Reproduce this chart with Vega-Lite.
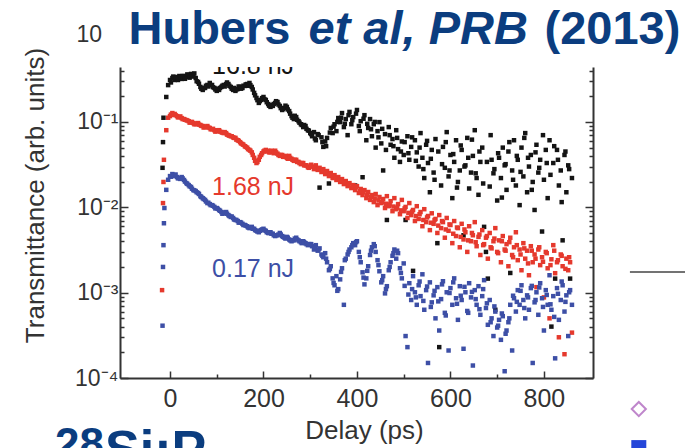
{
  "$schema": "https://vega.github.io/schema/vega-lite/v6.json",
  "width": 473,
  "height": 311,
  "autosize": {"type": "none"},
  "padding": {"left": 120, "top": 67, "right": 92, "bottom": 70},
  "background": "white",
  "config": {"view": {"stroke": null}, "font": "Liberation Sans", "axis": {"grid": false}},
  "data": {"values": [
    {"t":-17,"s1":null,"s2":0.00107,"s3":null},
    {"t":-16,"s1":0.029,"s2":null,"s3":0.00041},
    {"t":-15,"s1":0.058,"s2":0.0112,"s3":0.002},
    {"t":-14,"s1":0.112,"s2":0.0198,"s3":0.0036},
    {"t":-13,"s1":null,"s2":0.036,"s3":0.0065},
    {"t":-12,"s1":null,"s2":null,"s3":0.0098},
    {"t":-8,"s1":0.196,"s2":0.08,"s3":0.016},
    {"t":-4,"s1":0.27,"s2":0.112,"s3":0.021},
    {"t":0,"s1":0.31,"s2":0.117,"s3":0.0232},
    {"t":5,"s1":0.327,"s2":0.127,"s3":0.0245},
    {"t":10,"s1":0.31,"s2":0.124,"s3":0.0238},
    {"t":15,"s1":0.336,"s2":0.117,"s3":0.0226},
    {"t":20,"s1":0.345,"s2":0.114,"s3":0.022},
    {"t":25,"s1":0.319,"s2":0.111,"s3":0.0226},
    {"t":30,"s1":0.345,"s2":0.108,"s3":0.0209},
    {"t":35,"s1":0.336,"s2":0.105,"s3":0.0192},
    {"t":40,"s1":0.355,"s2":0.102,"s3":0.0182},
    {"t":45,"s1":0.365,"s2":0.0995,"s3":0.0173},
    {"t":50,"s1":0.355,"s2":0.097,"s3":0.0159},
    {"t":55,"s1":0.327,"s2":0.094,"s3":0.0155},
    {"t":60,"s1":0.294,"s2":0.097,"s3":0.0147},
    {"t":65,"s1":0.257,"s2":0.092,"s3":0.0135},
    {"t":70,"s1":0.237,"s2":0.0895,"s3":0.0128},
    {"t":75,"s1":0.25,"s2":0.087,"s3":0.0122},
    {"t":80,"s1":0.271,"s2":0.0895,"s3":0.0112},
    {"t":85,"s1":0.286,"s2":0.085,"s3":0.0109},
    {"t":90,"s1":0.271,"s2":0.082,"s3":0.0106},
    {"t":95,"s1":0.25,"s2":0.08,"s3":0.0101},
    {"t":100,"s1":0.231,"s2":0.078,"s3":0.0098},
    {"t":105,"s1":0.237,"s2":0.08,"s3":0.0093},
    {"t":110,"s1":0.257,"s2":0.076,"s3":0.0088},
    {"t":115,"s1":0.271,"s2":0.074,"s3":0.0085},
    {"t":120,"s1":0.278,"s2":0.074,"s3":0.0088},
    {"t":125,"s1":0.278,"s2":0.07,"s3":0.0081},
    {"t":130,"s1":0.257,"s2":0.068,"s3":0.0077},
    {"t":135,"s1":0.237,"s2":0.066,"s3":0.0075},
    {"t":140,"s1":0.231,"s2":0.065,"s3":0.0071},
    {"t":145,"s1":0.243,"s2":0.061,"s3":0.0069},
    {"t":150,"s1":0.257,"s2":0.058,"s3":0.0067},
    {"t":155,"s1":0.25,"s2":0.055,"s3":0.0064},
    {"t":160,"s1":0.264,"s2":0.052,"s3":0.0062},
    {"t":165,"s1":0.278,"s2":0.05,"s3":0.006},
    {"t":170,"s1":0.286,"s2":0.047,"s3":0.0057},
    {"t":175,"s1":0.257,"s2":0.044,"s3":0.0059},
    {"t":180,"s1":0.219,"s2":0.038,"s3":0.0056},
    {"t":185,"s1":0.191,"s2":0.033,"s3":0.0053},
    {"t":190,"s1":0.167,"s2":0.036,"s3":0.0051},
    {"t":195,"s1":0.181,"s2":0.041,"s3":0.0054},
    {"t":200,"s1":0.196,"s2":0.045,"s3":0.0056},
    {"t":205,"s1":0.181,"s2":0.047,"s3":0.0053},
    {"t":210,"s1":0.162,"s2":0.046,"s3":0.005},
    {"t":215,"s1":0.15,"s2":0.044,"s3":0.0051},
    {"t":220,"s1":0.154,"s2":0.045,"s3":0.0049},
    {"t":225,"s1":0.167,"s2":0.046,"s3":0.0046},
    {"t":230,"s1":0.171,"s2":0.0425,"s3":0.0047},
    {"t":235,"s1":0.154,"s2":0.04,"s3":0.005},
    {"t":240,"s1":0.138,"s2":0.041,"s3":0.0046},
    {"t":245,"s1":0.146,"s2":0.039,"s3":0.0044},
    {"t":250,"s1":0.15,"s2":0.038,"s3":0.0045},
    {"t":255,"s1":0.134,"s2":0.04,"s3":0.0042},
    {"t":260,"s1":0.117,"s2":0.037,"s3":0.004},
    {"t":265,"s1":0.108,"s2":0.035,"s3":0.0041},
    {"t":270,"s1":0.114,"s2":0.036,"s3":0.0044},
    {"t":275,"s1":0.102,"s2":0.034,"s3":0.0041},
    {"t":280,"s1":0.094,"s2":0.032,"s3":0.0039},
    {"t":285,"s1":0.087,"s2":0.033,"s3":0.004},
    {"t":290,"s1":0.0895,"s2":0.031,"s3":0.0038},
    {"t":295,"s1":0.08,"s2":0.0295,"s3":0.0036},
    {"t":300,"s1":0.074,"s2":0.03,"s3":0.0037},
    {"t":2,"s1":0.29,"s2":0.122,"s3":0.0228},
    {"t":7,"s1":0.34,"s2":0.121,"s3":0.0232},
    {"t":12,"s1":0.33,"s2":0.12,"s3":0.0242},
    {"t":17,"s1":0.31,"s2":0.113,"s3":0.0218},
    {"t":22,"s1":0.33,"s2":0.116,"s3":0.0215},
    {"t":27,"s1":0.345,"s2":0.108,"s3":0.0218},
    {"t":32,"s1":0.32,"s2":0.106,"s3":0.02},
    {"t":37,"s1":0.36,"s2":0.104,"s3":0.0188},
    {"t":42,"s1":0.33,"s2":0.098,"s3":0.0176},
    {"t":47,"s1":0.34,"s2":0.1,"s3":0.0165},
    {"t":52,"s1":0.37,"s2":0.094,"s3":0.0158},
    {"t":57,"s1":0.30,"s2":0.096,"s3":0.015},
    {"t":62,"s1":0.28,"s2":0.093,"s3":0.0143},
    {"t":67,"s1":0.245,"s2":0.09,"s3":0.0132},
    {"t":72,"s1":0.25,"s2":0.086,"s3":0.0125},
    {"t":77,"s1":0.265,"s2":0.088,"s3":0.0117},
    {"t":82,"s1":0.26,"s2":0.086,"s3":0.0113},
    {"t":87,"s1":0.27,"s2":0.082,"s3":0.0106},
    {"t":92,"s1":0.255,"s2":0.083,"s3":0.0104},
    {"t":97,"s1":0.24,"s2":0.077,"s3":0.0097},
    {"t":102,"s1":0.245,"s2":0.08,"s3":0.0096},
    {"t":107,"s1":0.25,"s2":0.077,"s3":0.0091},
    {"t":112,"s1":0.265,"s2":0.075,"s3":0.0084},
    {"t":117,"s1":0.26,"s2":0.076,"s3":0.0087},
    {"t":122,"s1":0.29,"s2":0.071,"s3":0.0084},
    {"t":127,"s1":0.265,"s2":0.069,"s3":0.0079},
    {"t":132,"s1":0.245,"s2":0.068,"s3":0.0078},
    {"t":137,"s1":0.25,"s2":0.065,"s3":0.0072},
    {"t":142,"s1":0.24,"s2":0.062,"s3":0.0071},
    {"t":147,"s1":0.26,"s2":0.06,"s3":0.0066},
    {"t":152,"s1":0.245,"s2":0.056,"s3":0.0066},
    {"t":157,"s1":0.265,"s2":0.054,"s3":0.0062},
    {"t":162,"s1":0.275,"s2":0.051,"s3":0.0061},
    {"t":167,"s1":0.265,"s2":0.048,"s3":0.0058},
    {"t":172,"s1":0.27,"s2":0.046,"s3":0.0058},
    {"t":177,"s1":0.24,"s2":0.041,"s3":0.0056},
    {"t":182,"s1":0.205,"s2":0.035,"s3":0.0054},
    {"t":187,"s1":0.18,"s2":0.034,"s3":0.0052},
    {"t":192,"s1":0.175,"s2":0.039,"s3":0.0053},
    {"t":197,"s1":0.19,"s2":0.043,"s3":0.0055},
    {"t":202,"s1":0.185,"s2":0.046,"s3":0.0054},
    {"t":207,"s1":0.17,"s2":0.045,"s3":0.0051},
    {"t":212,"s1":0.155,"s2":0.044,"s3":0.005},
    {"t":217,"s1":0.158,"s2":0.046,"s3":0.0049},
    {"t":222,"s1":0.162,"s2":0.043,"s3":0.0047},
    {"t":227,"s1":0.175,"s2":0.044,"s3":0.0047},
    {"t":232,"s1":0.16,"s2":0.041,"s3":0.0048},
    {"t":237,"s1":0.145,"s2":0.041,"s3":0.0048},
    {"t":242,"s1":0.142,"s2":0.039,"s3":0.0045},
    {"t":247,"s1":0.155,"s2":0.04,"s3":0.0043},
    {"t":252,"s1":0.14,"s2":0.037,"s3":0.0044},
    {"t":257,"s1":0.125,"s2":0.038,"s3":0.0041},
    {"t":262,"s1":0.112,"s2":0.036,"s3":0.0041},
    {"t":267,"s1":0.118,"s2":0.036,"s3":0.0043},
    {"t":272,"s1":0.106,"s2":0.034,"s3":0.0042},
    {"t":277,"s1":0.098,"s2":0.033,"s3":0.004},
    {"t":282,"s1":0.092,"s2":0.033,"s3":0.0038},
    {"t":287,"s1":0.092,"s2":0.031,"s3":0.0039},
    {"t":292,"s1":0.083,"s2":0.031,"s3":0.0037},
    {"t":297,"s1":0.079,"s2":0.029,"s3":0.0037},
    {"t":304,"s1":0.068,"s2":0.030,"s3":0.0035},
    {"t":308,"s1":0.076,"s2":0.028,"s3":0.0032},
    {"t":312,"s1":0.061,"s2":0.031,"s3":0.0036},
    {"t":316,"s1":0.072,"s2":0.0274,"s3":0.0031},
    {"t":320,"s1":0.017,"s2":0.029,"s3":0.0033},
    {"t":324,"s1":0.066,"s2":0.0259,"s3":0.0028},
    {"t":328,"s1":0.051,"s2":0.028,"s3":0.0026},
    {"t":332,"s1":0.059,"s2":0.0245,"s3":0.0029},
    {"t":336,"s1":0.065,"s2":0.0266,"s3":0.00227},
    {"t":340,"s1":0.019,"s2":0.0232,"s3":0.00183},
    {"t":344,"s1":0.085,"s2":0.0252,"s3":0.00204},
    {"t":348,"s1":0.074,"s2":0.022,"s3":0.00147},
    {"t":352,"s1":0.094,"s2":0.0238,"s3":0.00122},
    {"t":356,"s1":0.078,"s2":0.0209,"s3":0.00156},
    {"t":360,"s1":0.111,"s2":0.0226,"s3":0.0011},
    {"t":364,"s1":0.0995,"s2":0.0198,"s3":0.00143},
    {"t":368,"s1":0.127,"s2":0.0214,"s3":0.00193},
    {"t":372,"s1":0.087,"s2":0.0187,"s3":0.00072},
    {"t":376,"s1":0.108,"s2":0.0203,"s3":0.0025},
    {"t":380,"s1":0.070,"s2":0.0177,"s3":0.0028},
    {"t":384,"s1":0.131,"s2":0.0192,"s3":0.0032},
    {"t":388,"s1":0.094,"s2":0.0168,"s3":0.0034},
    {"t":392,"s1":0.114,"s2":0.0182,"s3":0.0038},
    {"t":396,"s1":0.018,"s2":0.0159,"s3":0.0036},
    {"t":400,"s1":0.138,"s2":0.0177,"s3":0.0040},
    {"t":404,"s1":0.0895,"s2":0.0147,"s3":0.0030},
    {"t":408,"s1":0.102,"s2":0.0164,"s3":0.00227},
    {"t":412,"s1":0.0225,"s2":0.0139,"s3":0.00173},
    {"t":416,"s1":0.120,"s2":0.0159,"s3":0.00125},
    {"t":420,"s1":0.061,"s2":0.0128,"s3":0.00147},
    {"t":424,"s1":0.085,"s2":0.0151,"s3":0.00204},
    {"t":428,"s1":0.108,"s2":0.0122,"s3":0.00276},
    {"t":432,"s1":0.068,"s2":0.0139,"s3":0.0034},
    {"t":436,"s1":0.094,"s2":0.0115,"s3":0.0037},
    {"t":440,"s1":0.050,"s2":0.0143,"s3":0.0030},
    {"t":444,"s1":0.078,"s2":0.0106,"s3":0.0024},
    {"t":448,"s1":0.0995,"s2":0.0132,"s3":0.00178},
    {"t":452,"s1":0.056,"s2":0.0112,"s3":0.00132},
    {"t":456,"s1":0.027,"s2":0.0125,"s3":0.00156},
    {"t":460,"s1":0.072,"s2":0.0098,"s3":0.00098},
    {"t":464,"s1":0.0071,"s2":0.0135,"s3":0.00119},
    {"t":468,"s1":0.087,"s2":0.0103,"s3":0.00183},
    {"t":472,"s1":0.054,"s2":0.0118,"s3":0.00227},
    {"t":476,"s1":0.063,"s2":0.0090,"s3":0.0027},
    {"t":480,"s1":0.038,"s2":0.0128,"s3":0.0032},
    {"t":484,"s1":0.080,"s2":0.0095,"s3":0.0025},
    {"t":488,"s1":0.048,"s2":0.0109,"s3":0.0029},
    {"t":492,"s1":0.034,"s2":0.0083,"s3":0.00193},
    {"t":496,"s1":0.059,"s2":0.0122,"s3":0.00147},
    {"t":500,"s1":0.041,"s2":0.0090,"s3":0.0022},
    {"t":504,"s1":0.0071,"s2":0.0101,"s3":0.00031},
    {"t":508,"s1":0.068,"s2":0.0075,"s3":0.00023},
    {"t":512,"s1":0.036,"s2":0.0112,"s3":0.00129},
    {"t":516,"s1":0.051,"s2":0.0081,"s3":0.00082},
    {"t":520,"s1":0.0018,"s2":0.0093,"s3":0.00156},
    {"t":524,"s1":0.061,"s2":0.0069,"s3":0.00101},
    {"t":528,"s1":0.044,"s2":0.0103,"s3":0.00072},
    {"t":532,"s1":0.030,"s2":0.0073,"s3":0.00122},
    {"t":536,"s1":0.074,"s2":0.0088,"s3":0.00091},
    {"t":540,"s1":0.038,"s2":0.0060,"s3":0.00164},
    {"t":544,"s1":0.022,"s2":0.0095,"s3":0.00063},
    {"t":548,"s1":0.054,"s2":0.0067,"s3":0.00107},
    {"t":552,"s1":0.033,"s2":0.0079,"s3":0.00015},
    {"t":556,"s1":0.015,"s2":0.0054,"s3":0.00132},
    {"t":560,"s1":0.047,"s2":0.0085,"s3":0.00077},
    {"t":564,"s1":0.0255,"s2":0.0064,"s3":0.00093},
    {"t":568,"s1":0.063,"s2":0.0073,"s3":0.00050},
    {"t":572,"s1":0.0038,"s2":0.0050,"s3":0.00116},
    {"t":576,"s1":0.00023,"s2":0.0081,"s3":0.00036},
    {"t":580,"s1":0.018,"s2":0.0057,"s3":0.00084},
    {"t":584,"s1":0.051,"s2":0.0067,"s3":0.00136},
    {"t":588,"s1":0.029,"s2":0.0044,"s3":0.00058},
    {"t":592,"s1":0.076,"s2":0.0075,"s3":0.00101},
    {"t":596,"s1":0.023,"s2":0.0053,"s3":0.00021},
    {"t":600,"s1":0.041,"s2":0.0062,"s3":0.00113},
    {"t":604,"s1":0.0128,"s2":0.0038,"s3":0.00072},
    {"t":608,"s1":0.034,"s2":0.0069,"s3":0.00147},
    {"t":612,"s1":0.061,"s2":0.0046,"s3":0.00086},
    {"t":616,"s1":0.0198,"s2":0.0057,"s3":0.00048},
    {"t":620,"s1":0.027,"s2":0.0034,"s3":0.00119},
    {"t":624,"s1":0.047,"s2":0.0064,"s3":0.00082},
    {"t":628,"s1":0.0047,"s2":0.0042,"s3":0.00022},
    {"t":632,"s1":0.031,"s2":0.0051,"s3":0.00101},
    {"t":636,"s1":0.065,"s2":0.0030,"s3":0.00061},
    {"t":640,"s1":0.0166,"s2":0.0060,"s3":0.00129},
    {"t":644,"s1":0.0255,"s2":0.0040,"s3":0.00088},
    {"t":648,"s1":0.040,"s2":0.0047,"s3":0.00014},
    {"t":652,"s1":0.080,"s2":0.0067,"s3":0.00107},
    {"t":656,"s1":0.022,"s2":0.0035,"s3":0.00072},
    {"t":660,"s1":0.014,"s2":0.0045,"s3":0.00119},
    {"t":664,"s1":0.034,"s2":0.00276,"s3":0.00055},
    {"t":668,"s1":0.050,"s2":0.0054,"s3":0.00091},
    {"t":672,"s1":0.0059,"s2":0.0037,"s3":0.0014},
    {"t":676,"s1":0.0030,"s2":0.0044,"s3":0.00066},
    {"t":680,"s1":0.00146,"s2":0.0025,"s3":0.00042},
    {"t":684,"s1":0.0175,"s2":0.0050,"s3":0.00082},
    {"t":688,"s1":0.036,"s2":0.0033,"s3":0.00050},
    {"t":692,"s1":0.025,"s2":0.0040,"s3":0.00031},
    {"t":696,"s1":0.00063,"s2":0.0057,"s3":0.00060},
    {"t":700,"s1":0.012,"s2":0.0030,"s3":0.00039},
    {"t":704,"s1":0.038,"s2":0.0041,"s3":0.00048},
    {"t":708,"s1":0.022,"s2":0.00227,"s3":0.00028},
    {"t":712,"s1":0.050,"s2":0.0046,"s3":0.00053},
    {"t":716,"s1":0.031,"s2":0.0032,"s3":0.00012},
    {"t":720,"s1":0.016,"s2":0.0037,"s3":0.00036},
    {"t":724,"s1":0.045,"s2":0.00204,"s3":0.00045},
    {"t":728,"s1":0.0017,"s2":0.0044,"s3":0.00072},
    {"t":732,"s1":0.027,"s2":0.00276,"s3":0.00021},
    {"t":736,"s1":0.061,"s2":0.0034,"s3":0.00086},
    {"t":740,"s1":0.018,"s2":0.0051,"s3":0.00060},
    {"t":744,"s1":0.036,"s2":0.0024,"s3":0.00107},
    {"t":748,"s1":0.0106,"s2":0.0032,"s3":0.00072},
    {"t":752,"s1":0.050,"s2":0.00183,"s3":0.00122},
    {"t":756,"s1":0.023,"s2":0.0038,"s3":0.00082},
    {"t":760,"s1":0.074,"s2":0.0025,"s3":0.00050},
    {"t":764,"s1":0.015,"s2":0.0031,"s3":0.00093},
    {"t":768,"s1":0.030,"s2":0.0016,"s3":0.00063},
    {"t":772,"s1":0.041,"s2":0.0035,"s3":0.00113},
    {"t":776,"s1":0.0198,"s2":0.00227,"s3":0.00015},
    {"t":780,"s1":0.0093,"s2":0.0028,"s3":0.00077},
    {"t":784,"s1":0.054,"s2":0.00116,"s3":0.00101},
    {"t":788,"s1":0.0255,"s2":0.0032,"s3":0.00055},
    {"t":792,"s1":0.036,"s2":0.0021,"s3":0.00129},
    {"t":796,"s1":0.0052,"s2":0.0026,"s3":0.00086},
    {"t":800,"s1":0.021,"s2":0.00088,"s3":0.00036},
    {"t":804,"s1":0.047,"s2":0.0030,"s3":0.00107},
    {"t":808,"s1":0.0128,"s2":0.00193,"s3":0.00072},
    {"t":812,"s1":0.061,"s2":0.00050,"s3":0.0016},
    {"t":816,"s1":0.00040,"s2":0.00246,"s3":0.00063},
    {"t":820,"s1":0.033,"s2":0.0036,"s3":0.00091},
    {"t":824,"s1":0.00146,"s2":0.00169,"s3":0.00017},
    {"t":828,"s1":0.047,"s2":0.00227,"s3":0.00113},
    {"t":832,"s1":0.018,"s2":0.00030,"s3":0.00048},
    {"t":836,"s1":0.027,"s2":0.0028,"s3":0.00082},
    {"t":840,"s1":0.0041,"s2":0.00204,"s3":0.00122},
    {"t":844,"s1":0.041,"s2":0.00019,"s3":0.00060},
    {"t":848,"s1":0.015,"s2":0.0025,"s3":0.00093},
    {"t":852,"s1":0.031,"s2":0.00183,"s3":0.00031},
    {"t":856,"s1":0.00146,"s2":0.00227,"s3":0.00107},
    {"t":860,"s1":0.022,"s2":0.00034,"s3":0.00072},
    {"t":302,"s1":0.072,"s2":0.0315,"s3":0.0037},
    {"t":310,"s1":0.064,"s2":0.029,"s3":0.0034},
    {"t":318,"s1":0.07,"s2":0.0285,"s3":0.0032},
    {"t":326,"s1":0.058,"s2":0.027,"s3":0.0027},
    {"t":334,"s1":0.052,"s2":0.0255,"s3":0.0025},
    {"t":342,"s1":0.075,"s2":0.024,"s3":0.0019},
    {"t":350,"s1":0.088,"s2":0.0235,"s3":0.0013},
    {"t":358,"s1":0.1,"s2":0.0215,"s3":0.00105},
    {"t":366,"s1":0.112,"s2":0.0205,"s3":0.00175},
    {"t":374,"s1":0.095,"s2":0.0195,"s3":0.0024},
    {"t":382,"s1":0.12,"s2":0.0185,"s3":0.003},
    {"t":390,"s1":0.105,"s2":0.017,"s3":0.0036},
    {"t":398,"s1":0.125,"s2":0.0172,"s3":0.0039},
    {"t":406,"s1":0.078,"s2":0.0155,"s3":0.0026},
    {"t":414,"s1":0.109,"s2":0.015,"s3":0.0015},
    {"t":422,"s1":0.095,"s2":0.0138,"s3":0.0018},
    {"t":430,"s1":0.082,"s2":0.0132,"s3":0.0031},
    {"t":438,"s1":0.1,"s2":0.0127,"s3":0.0035},
    {"t":446,"s1":0.066,"s2":0.012,"s3":0.0021},
    {"t":454,"s1":0.083,"s2":0.0115,"s3":0.0014},
    {"t":462,"s1":0.047,"s2":0.011,"s3":0.0011},
    {"t":470,"s1":0.07,"s2":0.0108,"s3":0.002},
    {"t":478,"s1":0.052,"s2":0.0102,"s3":0.0029},
    {"t":486,"s1":0.065,"s2":0.0099,"s3":0.0031},
    {"t":494,"s1":0.045,"s2":0.0092,"s3":0.0017},
    {"t":502,"s1":0.058,"s2":0.0097,"s3":0.0012},
    {"t":510,"s1":0.043,"s2":0.0086,"s3":0.00095},
    {"t":518,"s1":0.066,"s2":0.0089,"s3":0.0011},
    {"t":526,"s1":0.035,"s2":0.0079,"s3":0.00088},
    {"t":534,"s1":0.05,"s2":0.0083,"s3":0.00135},
    {"t":542,"s1":0.028,"s2":0.0071,"s3":0.0008},
    {"t":550,"s1":0.06,"s2":0.0076,"s3":0.00118},
    {"t":558,"s1":0.037,"s2":0.0066,"s3":0.00068},
    {"t":566,"s1":0.021,"s2":0.0071,"s3":0.00105},
    {"t":574,"s1":0.045,"s2":0.0061,"s3":0.00079},
    {"t":582,"s1":0.032,"s2":0.0069,"s3":0.00125},
    {"t":590,"s1":0.058,"s2":0.0055,"s3":0.00054},
    {"t":598,"s1":0.027,"s2":0.0063,"s3":0.00099},
    {"t":606,"s1":0.042,"s2":0.0049,"s3":0.00132},
    {"t":614,"s1":0.017,"s2":0.0058,"s3":0.00074},
    {"t":622,"s1":0.053,"s2":0.0045,"s3":0.00092},
    {"t":630,"s1":0.03,"s2":0.0055,"s3":0.00117},
    {"t":638,"s1":0.038,"s2":0.0041,"s3":0.00058},
    {"t":646,"s1":0.062,"s2":0.005,"s3":0.00102},
    {"t":654,"s1":0.025,"s2":0.0039,"s3":0.00084},
    {"t":662,"s1":0.045,"s2":0.0048,"s3":0.00064},
    {"t":670,"s1":0.019,"s2":0.0036,"s3":0.0011},
    {"t":678,"s1":0.034,"s2":0.0046,"s3":0.00075},
    {"t":686,"s1":0.07,"s2":0.0034,"s3":0.00045},
    {"t":694,"s1":0.028,"s2":0.0043,"s3":0.00069},
    {"t":702,"s1":0.043,"s2":0.0029,"s3":0.00041},
    {"t":710,"s1":0.013,"s2":0.004,"s3":0.00057},
    {"t":718,"s1":0.032,"s2":0.0031,"s3":0.00033},
    {"t":726,"s1":0.058,"s2":0.0039,"s3":0.0005},
    {"t":734,"s1":0.021,"s2":0.0026,"s3":0.00092},
    {"t":742,"s1":0.04,"s2":0.0036,"s3":0.00078},
    {"t":750,"s1":0.026,"s2":0.0028,"s3":0.00105},
    {"t":758,"s1":0.065,"s2":0.0033,"s3":0.00066},
    {"t":766,"s1":0.038,"s2":0.0022,"s3":0.00088},
    {"t":774,"s1":0.016,"s2":0.0031,"s3":0.0012},
    {"t":782,"s1":0.044,"s2":0.0025,"s3":0.00082},
    {"t":790,"s1":0.029,"s2":0.0034,"s3":0.00115},
    {"t":798,"s1":0.07,"s2":0.0023,"s3":0.00068},
    {"t":806,"s1":0.033,"s2":0.0029,"s3":0.00094},
    {"t":814,"s1":0.024,"s2":0.0021,"s3":0.00073},
    {"t":822,"s1":0.052,"s2":0.0031,"s3":0.00052},
    {"t":830,"s1":0.036,"s2":0.0024,"s3":0.00097},
    {"t":838,"s1":0.0115,"s2":0.0027,"s3":0.00135},
    {"t":846,"s1":0.045,"s2":0.0019,"s3":0.00078},
    {"t":854,"s1":0.028,"s2":0.0026,"s3":0.00101}
  ]},
  "layer": [
    {
      "transform": [{"fold": ["s1", "s2", "s3"], "as": ["pulse", "T"]}],
      "mark": {"type": "square", "size": 20, "opacity": 1},
      "encoding": {
        "x": {"field": "t", "type": "quantitative", "scale": {"domain": [-107, 905], "nice": false, "zero": false},
          "axis": {"orient": "bottom", "values": [0,100,200,300,400,500,600,700,800],
            "labelExpr": "datum.value % 200 == 0 ? datum.label : ''",
            "tickSize": {"condition": {"test": "datum.value % 200 == 0", "value": -7}, "value": -4},
            "tickColor": "#333333", "tickWidth": 1.5, "domainColor": "#333333", "domainWidth": 2,
            "labelFontSize": 25, "labelColor": "#333333", "labelPadding": 15, "labelFlush": false, "labelOverlap": false,
            "title": "Delay (ps)", "titleFontSize": 26, "titleFontWeight": "normal", "titleColor": "#333333",
            "titleX": 244, "titleY": 60, "titleAlign": "center", "titleBaseline": "alphabetic"}},
        "y": {"field": "T", "type": "quantitative", "scale": {"type": "log", "domain": [0.0001, 0.44], "nice": false},
          "axis": {"orient": "left",
            "values": [0.0001,0.0002,0.0003,0.0004,0.0005,0.0006,0.0007,0.0008,0.0009,0.001,0.002,0.003,0.004,0.005,0.006,0.007,0.008,0.009,0.01,0.02,0.03,0.04,0.05,0.06,0.07,0.08,0.09,0.1,0.2,0.3,0.4],
            "labelExpr": "datum.value == 0.1 ? '10⁻¹' : datum.value == 0.01 ? '10⁻²' : datum.value == 0.001 ? '10⁻³' : datum.value == 0.0001 ? '10⁻⁴' : ''",
            "tickSize": {"condition": {"test": "indexof([0.0001,0.001,0.01,0.1], datum.value) >= 0", "value": -8}, "value": -4},
            "tickColor": "#333333", "tickWidth": 1.5, "domainColor": "#333333", "domainWidth": 2,
            "labelFontSize": 23, "labelColor": "#333333", "labelPadding": 10, "labelFlush": false, "labelOverlap": false,
            "title": "Transmittance (arb. units)", "titleFontSize": 26, "titleFontWeight": "normal", "titleColor": "#333333",
            "titleX": -85, "titleY": 128, "titleAngle": 270, "titleAlign": "center", "titleBaseline": "middle"}},
        "color": {"field": "pulse", "type": "nominal", "scale": {"domain": ["s1", "s2", "s3"], "range": ["#141414", "#e5392d", "#3d4fa6"]}, "legend": null},
        "order": {"field": "pulse", "type": "ordinal"}
      }
    },
    {
      "mark": {"type": "point", "opacity": 0},
      "encoding": {
        "x": {"field": "t", "type": "quantitative", "scale": {"domain": [-107, 905], "nice": false, "zero": false},
          "axis": {"orient": "top", "domain": false, "ticks": false, "labels": false,
            "title": "Hubers", "titleFontSize": 47, "titleFontWeight": "bold", "titleColor": "#0b3d7f",
            "titleX": 8, "titleY": -24, "titleAlign": "left", "titleBaseline": "alphabetic"}},
        "y": {"field": "s1", "type": "quantitative", "scale": {"type": "log", "domain": [0.0001, 0.44], "nice": false},
          "axis": {"orient": "right", "labels": false,
            "values": [0.0001,0.0002,0.0003,0.0004,0.0005,0.0006,0.0007,0.0008,0.0009,0.001,0.002,0.003,0.004,0.005,0.006,0.007,0.008,0.009,0.01,0.02,0.03,0.04,0.05,0.06,0.07,0.08,0.09,0.1,0.2,0.3,0.4],
            "tickSize": {"condition": {"test": "indexof([0.0001,0.001,0.01,0.1], datum.value) >= 0", "value": -8}, "value": -4},
            "tickColor": "#333333", "tickWidth": 1.5, "domainColor": "#333333", "domainWidth": 2,
            "title": "10", "titleFontSize": 23, "titleFontWeight": "normal", "titleColor": "#333333",
            "titleAngle": 0, "titleX": -517, "titleY": -33, "titleAlign": "left", "titleBaseline": "middle"}}
      }
    },
    {
      "mark": {"type": "point", "opacity": 0},
      "encoding": {
        "x": {"field": "t", "type": "quantitative", "scale": {"domain": [-107, 905], "nice": false, "zero": false},
          "axis": {"orient": "top", "domain": false, "ticks": false, "labels": false,
            "title": "et al, PRB", "titleFontSize": 47, "titleFontWeight": "bold", "titleFontStyle": "italic", "titleColor": "#0b3d7f",
            "titleX": 188, "titleY": -24, "titleAlign": "left", "titleBaseline": "alphabetic"}},
        "y": {"field": "s1", "type": "quantitative", "scale": {"type": "log", "domain": [0.0001, 0.44], "nice": false}, "axis": null}
      }
    },
    {
      "mark": {"type": "point", "opacity": 0},
      "encoding": {
        "x": {"field": "t", "type": "quantitative", "scale": {"domain": [-107, 905], "nice": false, "zero": false},
          "axis": {"orient": "top", "domain": false, "ticks": false, "labels": false,
            "title": "(2013)", "titleFontSize": 47, "titleFontWeight": "bold", "titleColor": "#0b3d7f",
            "titleX": 424, "titleY": -24, "titleAlign": "left", "titleBaseline": "alphabetic"}},
        "y": {"field": "s1", "type": "quantitative", "scale": {"type": "log", "domain": [0.0001, 0.44], "nice": false}, "axis": null}
      }
    },
    {
      "data": {"values": [
        {"label": "16.8 nJ", "pulse": "s1", "t": 90, "T": 0.36},
        {"label": "1.68 nJ", "pulse": "s2", "t": 90, "T": 0.0139},
        {"label": "0.17 nJ", "pulse": "s3", "t": 90, "T": 0.00152}
      ]},
      "mark": {"type": "text", "align": "left", "baseline": "alphabetic", "fontSize": 25, "clip": true},
      "encoding": {
        "x": {"field": "t", "type": "quantitative", "scale": {"domain": [-107, 905], "nice": false, "zero": false}, "axis": null},
        "y": {"field": "T", "type": "quantitative", "scale": {"type": "log", "domain": [0.0001, 0.44], "nice": false}, "axis": null},
        "color": {"field": "pulse", "type": "nominal", "legend": null},
        "text": {"field": "label"}
      }
    },
    {
      "data": {"values": [{"t": 984, "t2": 1115, "T": 0.00175}]},
      "mark": {"type": "rule", "color": "#444444", "strokeWidth": 1.5},
      "encoding": {
        "x": {"field": "t", "type": "quantitative", "scale": {"domain": [-107, 905], "nice": false, "zero": false}, "axis": null},
        "x2": {"field": "t2"},
        "y": {"field": "T", "type": "quantitative", "scale": {"type": "log", "domain": [0.0001, 0.44], "nice": false}, "axis": null}
      }
    },
    {
      "data": {"values": [{"t": 1003, "T": 0.0000433}]},
      "mark": {"type": "point", "shape": "diamond", "filled": false, "color": "#a453b6", "strokeWidth": 2, "size": 200},
      "encoding": {
        "x": {"field": "t", "type": "quantitative", "scale": {"domain": [-107, 905], "nice": false, "zero": false}, "axis": null},
        "y": {"field": "T", "type": "quantitative", "scale": {"type": "log", "domain": [0.0001, 0.44], "nice": false}, "axis": null}
      }
    },
    {
      "data": {"values": [{"t": 1003, "T": 0.0000153}]},
      "mark": {"type": "square", "color": "#2546d9", "opacity": 1, "size": 225},
      "encoding": {
        "x": {"field": "t", "type": "quantitative", "scale": {"domain": [-107, 905], "nice": false, "zero": false}, "axis": null},
        "y": {"field": "T", "type": "quantitative", "scale": {"type": "log", "domain": [0.0001, 0.44], "nice": false}, "axis": null}
      }
    },
    {
      "data": {"values": [{"label": "28", "t": -246, "T": 0.0000111}]},
      "mark": {"type": "text", "align": "left", "baseline": "alphabetic", "fontSize": 44, "fontWeight": "bold", "color": "#0b3d7f"},
      "encoding": {
        "x": {"field": "t", "type": "quantitative", "scale": {"domain": [-107, 905], "nice": false, "zero": false}, "axis": null},
        "y": {"field": "T", "type": "quantitative", "scale": {"type": "log", "domain": [0.0001, 0.44], "nice": false}, "axis": null},
        "text": {"field": "label"}
      }
    },
    {
      "data": {"values": [{"label": "Si:P", "t": -139, "T": 0.00000906}]},
      "mark": {"type": "text", "align": "left", "baseline": "alphabetic", "fontSize": 52, "fontWeight": "bold", "color": "#0b3d7f"},
      "encoding": {
        "x": {"field": "t", "type": "quantitative", "scale": {"domain": [-107, 905], "nice": false, "zero": false}, "axis": null},
        "y": {"field": "T", "type": "quantitative", "scale": {"type": "log", "domain": [0.0001, 0.44], "nice": false}, "axis": null},
        "text": {"field": "label"}
      }
    }
  ],
  "resolve": {"axis": {"x": "independent", "y": "independent"}}
}
